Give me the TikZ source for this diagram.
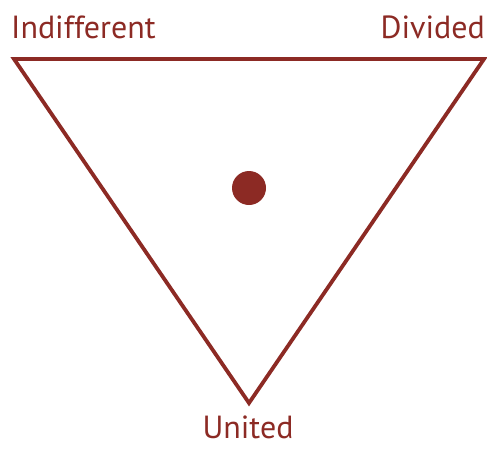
\documentclass[tikz,border=0pt]{standalone}
\usepackage{fontspec}
\setmainfont{PT Sans}
\usetikzlibrary{positioning}
\definecolor{triared}{RGB}{140,42,36}

\begin{document}
\begin{tikzpicture}[
    x=1pt, y=-1pt,
    % Global Styles
    font=\fontsize{32}{35}\selectfont,
    % Node Styles
    cornerlabel/.style={
        text=triared,
        inner sep=0pt,
        anchor=base
    },
    edge/.style={
        draw=triared,
        line width=3.8pt,
        line join=miter
    },
    centredot/.style={
        circle,
        fill=triared,
        minimum size=34pt,
        inner sep=0pt
    }
]
    \useasboundingbox (0,0) rectangle (487,448);

    % --- Corners ---
    \coordinate (c1) at (14,59);
    \coordinate (c2) at (484,59);
    \coordinate (c3) at (249,403);

    % --- The Triangle ---
    \draw[edge] (c1) -- (c2) -- (c3) -- cycle;

    % --- Centre Dot ---
    \node[centredot] (dot) at (249,188) {};

    % --- Labels ---
    \node[cornerlabel, anchor=base west] (indifferent) at (11,38) {Indifferent};
    \node[cornerlabel, anchor=base east] (divided) at (485,38) {Divided};
    \node[cornerlabel] (united) at (248,438) {United};

\end{tikzpicture}
\end{document}
